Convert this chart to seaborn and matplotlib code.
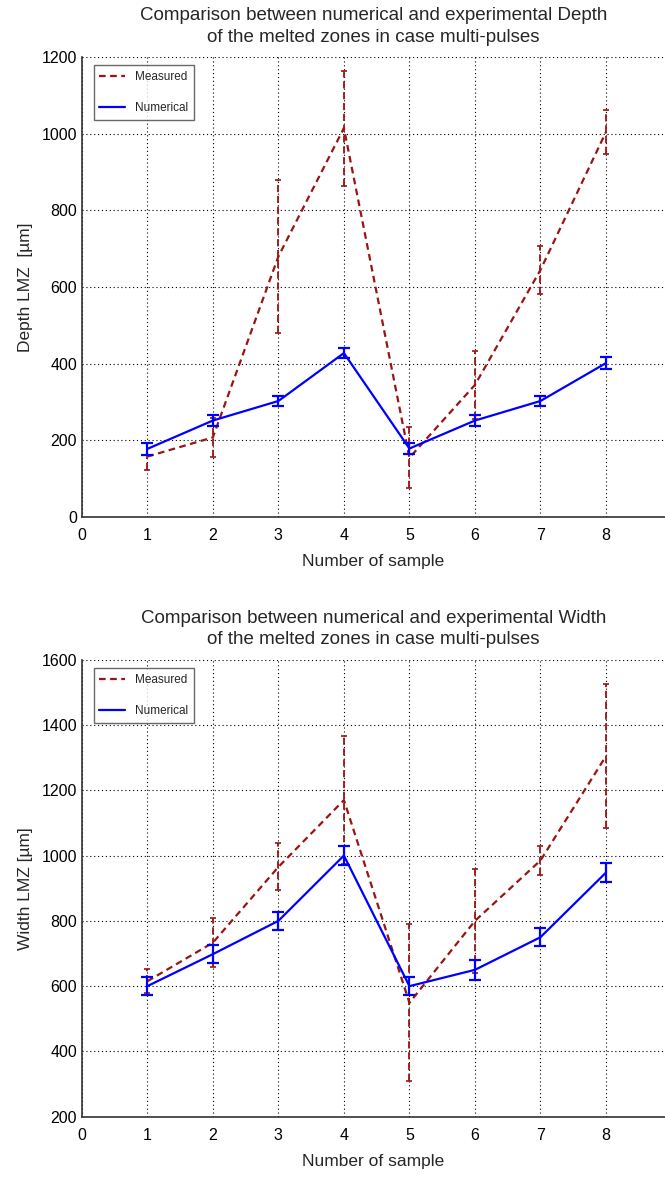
import numpy as np
import pandas as pd
import matplotlib
matplotlib.use("Agg")
import matplotlib.pyplot as plt
import seaborn as sns

# Sample numbers
samples = [1, 2, 3, 4, 5, 6, 7, 8]

# Depth of the melted zones (um)
depth_measured = [158, 208, 680, 1015, 155, 345, 645, 1005]
depth_measured_err = [36, 50, 200, 150, 80, 88, 62, 58]
depth_numerical = [178, 252, 303, 428, 179, 252, 303, 402]
depth_numerical_err = [15, 15, 14, 14, 15, 14, 14, 15]

# Width of the melted zones (um)
width_measured = [615, 733, 965, 1170, 549, 800, 985, 1305]
width_measured_err = [37, 75, 72, 195, 240, 160, 45, 222]
width_numerical = [600, 698, 800, 1000, 600, 650, 750, 948]
width_numerical_err = [28, 28, 28, 28, 28, 30, 28, 28]

red = "#9a1414"
blue = "#0000ff"

sns.set_style("white")
plt.rcParams["font.family"] = ["Liberation Sans", "DejaVu Sans"]


def draw_panel(ax, meas, meas_err, num, num_err, title, ylabel, ylim, yticks):
    df = pd.DataFrame({
        "sample": samples * 2,
        "value": meas + num,
        "series": ["Measured"] * len(samples) + ["Numerical"] * len(samples),
    })
    sns.lineplot(data=df, x="sample", y="value", hue="series", style="series",
                 palette={"Measured": red, "Numerical": blue},
                 dashes={"Measured": (3, 2), "Numerical": ""},
                 linewidth=1.6, ax=ax, zorder=3)
    eb = ax.errorbar(samples, meas, yerr=meas_err, fmt="none", ecolor=red,
                     elinewidth=1.3, capsize=2.5, capthick=1.2, zorder=3)
    eb[2][0].set_linestyle((0, (4, 2)))
    ax.errorbar(samples, num, yerr=num_err, fmt="none", ecolor=blue,
                elinewidth=1.6, capsize=4, capthick=1.6, zorder=4)

    ax.set_xlim(0, 8.9)
    ax.set_ylim(*ylim)
    ax.set_xticks(range(0, 9))
    ax.set_yticks(yticks)
    ax.grid(True, color="black", linestyle=(0, (1, 2.5)), linewidth=0.8)
    ax.tick_params(direction="in", length=4, labelsize=11.5, colors="black")
    ax.tick_params(axis="x", pad=8)
    for side in ["top", "right"]:
        ax.spines[side].set_visible(False)
    for side in ["left", "bottom"]:
        ax.spines[side].set_color("#333333")
        ax.spines[side].set_linewidth(1.2)
    ax.set_xlabel("Number of sample", fontsize=12.5, labelpad=8)
    ax.set_ylabel(ylabel, fontsize=12.5, labelpad=6)
    ax.set_title(title, fontsize=13.5, pad=11, linespacing=1.35)

    handles, labels = ax.get_legend_handles_labels()
    leg = ax.legend(handles, labels, loc="upper left", fontsize=8.5,
                    labelspacing=1.6, handlelength=2.2, borderpad=0.5,
                    frameon=True, fancybox=False, edgecolor="#444444",
                    bbox_to_anchor=(0.01, 0.995))
    leg.get_frame().set_linewidth(1.0)


fig = plt.figure(figsize=(6.65, 11.78), dpi=100)
ax1 = fig.add_axes([0.123, 0.561, 0.877, 0.3905])
ax2 = fig.add_axes([0.123, 0.052, 0.877, 0.388])

draw_panel(ax1, depth_measured, depth_measured_err, depth_numerical, depth_numerical_err,
           "Comparison between numerical and experimental Depth\nof the melted zones in case multi-pulses",
           "Depth LMZ  [µm]", (0, 1200), range(0, 1201, 200))
draw_panel(ax2, width_measured, width_measured_err, width_numerical, width_numerical_err,
           "Comparison between numerical and experimental Width\nof the melted zones in case multi-pulses",
           "Width LMZ [µm]", (200, 1600), range(200, 1601, 200))

fig.savefig("out.png", dpi=100)
